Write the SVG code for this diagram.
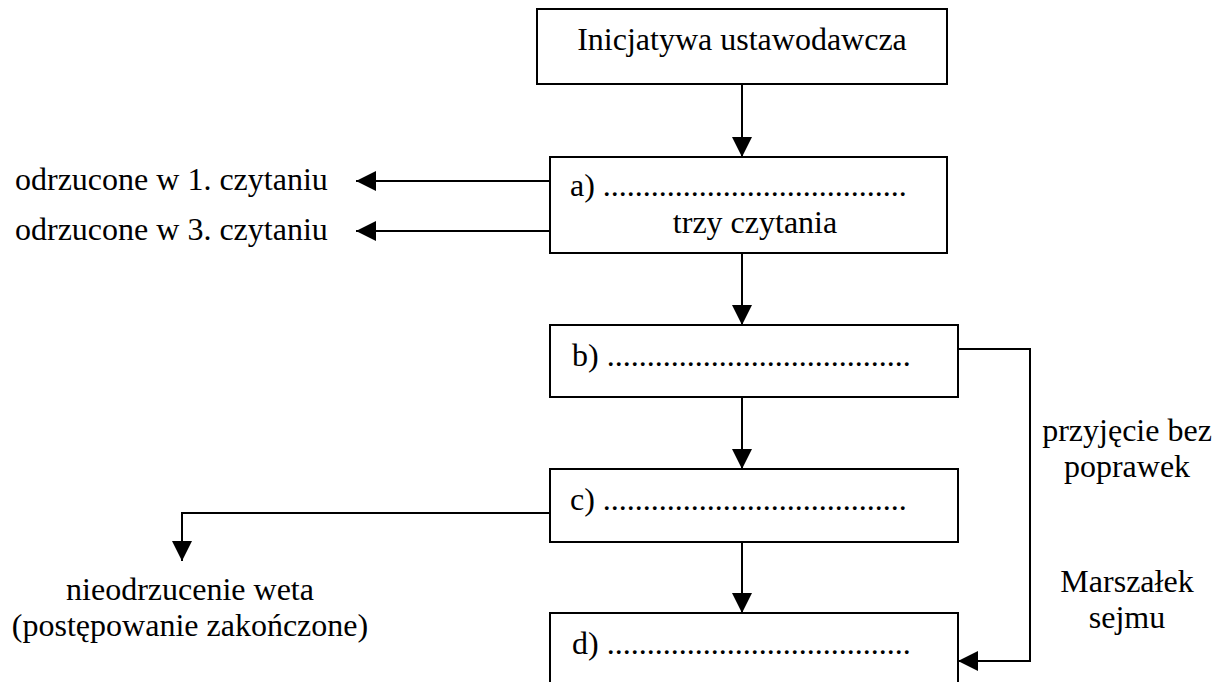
<svg xmlns="http://www.w3.org/2000/svg" width="1227" height="682" viewBox="0 0 1227 682">
<style>
text{font-family:"Liberation Serif","Times New Roman",serif;font-size:32px;fill:#000}
.box{fill:#fff;stroke:#000;stroke-width:2}
.c{fill:none;stroke:#000;stroke-width:2}
.m{text-anchor:middle}
</style>
<defs>
<marker id="ah" markerUnits="userSpaceOnUse" markerWidth="20" markerHeight="20" refX="20" refY="10" orient="auto">
<path d="M0,0 L20,10 L0,20 z" fill="#000"/>
</marker>
</defs>
<rect width="1227" height="682" fill="#fff"/>
<g id="connectors">
<path class="c" d="M742,84 V157" marker-end="url(#ah)"/>
<path class="c" d="M742,253 V325" marker-end="url(#ah)"/>
<path class="c" d="M742,397 V469" marker-end="url(#ah)"/>
<path class="c" d="M742,542 V613" marker-end="url(#ah)"/>
<path class="c" d="M550,181 H356" marker-end="url(#ah)"/>
<path class="c" d="M550,231 H356" marker-end="url(#ah)"/>
<path class="c" d="M550,513 H182 V561" marker-end="url(#ah)"/>
<path class="c" d="M958,349 H1030 V661 H958" marker-end="url(#ah)"/>
</g>
<g id="n-start">
<rect class="box" x="537" y="9" width="410" height="75"/>
<text class="m" x="742" y="50">Inicjatywa ustawodawcza</text>
</g>
<g id="n-a">
<rect class="box" x="550" y="157" width="397" height="96"/>
<text x="570" y="196">a) ......................................</text>
<text class="m" x="755" y="233">trzy czytania</text>
</g>
<g id="n-b">
<rect class="box" x="550" y="325" width="408" height="72"/>
<text x="572" y="366">b) ......................................</text>
</g>
<g id="n-c">
<rect class="box" x="550" y="469" width="408" height="73"/>
<text x="570" y="510">c) ......................................</text>
</g>
<g id="n-d">
<rect class="box" x="550" y="613" width="408" height="90"/>
<text x="572" y="654">d) ......................................</text>
</g>
<g id="labels">
<text x="15" y="190">odrzucone w 1. czytaniu</text>
<text x="15" y="240">odrzucone w 3. czytaniu</text>
<text class="m" x="190" y="600">nieodrzucenie weta</text>
<text class="m" x="190" y="636">(postępowanie zakończone)</text>
<text class="m" x="1127" y="441">przyjęcie bez</text>
<text class="m" x="1127" y="477">poprawek</text>
<text class="m" x="1127" y="592">Marszałek</text>
<text class="m" x="1127" y="628">sejmu</text>
</g>
</svg>
